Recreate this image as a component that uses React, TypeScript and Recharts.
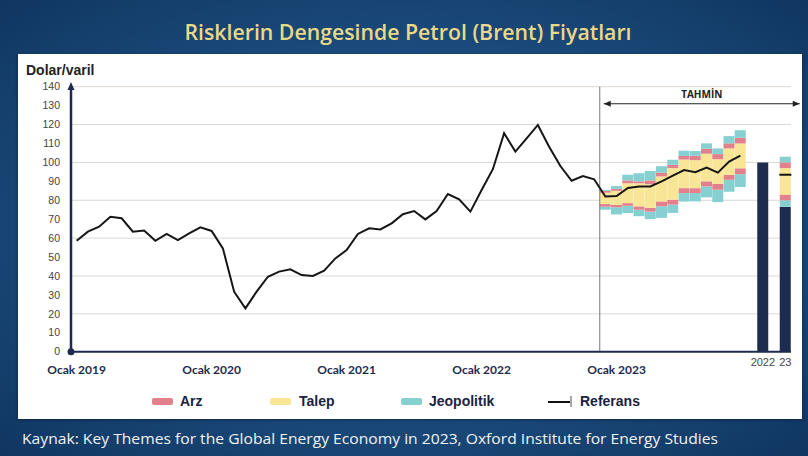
import React from 'react';
import { ComposedChart, Bar, Line, Scatter, XAxis, YAxis, CartesianGrid, ReferenceLine, Cell } from 'recharts';

const years = [2019, 2020, 2021, 2022, 2023];

// Brent, monthly, Jan 2019 - Dec 2022
const history = [
  58.6, 63.4, 66.0, 71.3, 70.5, 63.4, 64.0, 58.6, 62.2, 59.0, 62.5, 65.7,
  63.8, 54.6, 31.7, 22.9, 31.7, 39.6, 42.3, 43.5, 40.5, 40.0, 42.8, 49.3,
  53.7, 62.2, 65.2, 64.6, 67.8, 72.6, 74.3, 69.9, 74.3, 83.3, 80.5, 74.0,
  85.4, 96.4, 115.4, 105.7, 112.7, 119.8, 108.3, 98.1, 90.3, 92.8, 91.1, 82.0,
];
// reference path, Jan - Dec 2023
const forecast = [82.2, 86.5, 87.3, 87.3, 90.0, 93.0, 96.0, 94.8, 97.3, 94.6, 100.4, 103.6];

// risk bands, Dec 2022 - Dec 2023
const jeoLow = [75.0, 72.5, 73.2, 71.6, 70.0, 70.7, 73.3, 79.3, 79.4, 81.5, 79.0, 84.5, 87.0];
const arzLow = [76.6, 76.3, 77.1, 75.0, 74.0, 76.8, 77.7, 83.8, 83.8, 87.3, 85.6, 90.8, 93.8];
const talepLow = [78.0, 77.6, 78.5, 76.8, 76.0, 79.4, 80.3, 86.4, 86.4, 90.0, 88.7, 93.4, 96.9];
const talepHigh = [84.0, 85.0, 89.0, 89.0, 88.5, 92.6, 97.0, 101.5, 101.2, 104.6, 101.7, 107.4, 110.0];
const arzHigh = [85.0, 86.0, 90.5, 90.0, 90.5, 94.6, 98.7, 103.4, 103.5, 107.2, 104.4, 110.1, 113.0];
const jeoHigh = [85.5, 87.5, 93.5, 94.3, 95.5, 98.0, 101.4, 106.2, 106.0, 110.1, 107.4, 113.9, 117.0];

// annual averages on the right
const annual2022 = 100;
const bands2023 = [76.5, 80, 83, 97, 100, 103]; // jeoLow, arzLow, talepLow, talepHigh, arzHigh, jeoHigh
const ref2023 = 93.5;

const yTicks = [0, 10, 20, 30, 40, 50, 60, 70, 80, 90, 100, 110, 120, 130, 140];

const NAVY = '#1d2b4f';
const TEAL = '#86d0d2';
const RED = '#e2808c';
const YELLOW = '#f8e596';

const monthKeys = years.flatMap((y) =>
  Array.from({ length: 12 }, (_, m) => `${y}-${String(m + 1).padStart(2, '0')}`)
);
const keys = [...monthKeys, 'gap1', '2022', 'gap2', '23'];
const brentSeries = [...history, ...forecast];
const fanStart = history.length - 1;

const rows = keys.map((key, i) => {
  const row: any = { key, brent: i < brentSeries.length ? brentSeries[i] : null };
  const f = i - fanStart;
  let b: number[] | null = null;
  if (f >= 0 && f < jeoLow.length) {
    b = [jeoLow[f], arzLow[f], talepLow[f], talepHigh[f], arzHigh[f], jeoHigh[f]];
  }
  if (key === '23') {
    b = bands2023;
    row.mark = ref2023;
  }
  if (b) {
    row.base = b[0];
    row.tealLo = b[1] - b[0];
    row.redLo = b[2] - b[1];
    row.yellow = b[3] - b[2];
    row.redHi = b[4] - b[3];
    row.tealHi = b[5] - b[4];
  }
  if (key === '2022') row.base = annual2022;
  return row;
});

const renderXTick = (props: any) => {
  const { x, y, payload } = props;
  const k: string = payload.value;
  if (k.endsWith('-01')) {
    return (
      <text x={x} y={y + 22} textAnchor="middle" fontSize={12} fontWeight={700}
        fontFamily="Lato, sans-serif" fill={NAVY}>
        {`Ocak ${k.slice(0, 4)}`}
      </text>
    );
  }
  if (k === '2022' || k === '23') {
    return (
      <text x={x} y={y + 14} textAnchor="middle" fontSize={11}
        fontFamily="Liberation Sans, sans-serif" fill="#444">
        {k}
      </text>
    );
  }
  return <g />;
};

const renderMark = (p: any) => {
  if (p.cy == null || isNaN(p.cy)) return <g />;
  return <line x1={p.cx - 6} x2={p.cx + 6} y1={p.cy} y2={p.cy} stroke="#111" strokeWidth={2} />;
};

const renderArrow = (p: any) => {
  const x1 = p.x1 + 4;
  const x2 = p.x2 + 20;
  const y = p.y1;
  return (
    <g>
      <line x1={x1} x2={x2} y1={y} y2={y} stroke="#222" strokeWidth={1.2} />
      <polygon points={`${x1},${y} ${x1 + 7},${y - 3} ${x1 + 7},${y + 3}`} fill="#222" />
      <polygon points={`${x2},${y} ${x2 - 7},${y - 3} ${x2 - 7},${y + 3}`} fill="#222" />
      <text x={(x1 + x2) / 2} y={y - 6} textAnchor="middle" fontSize={10} fontWeight={700}
        fontFamily="Open Sans, sans-serif" fill="#222">TAHMİN</text>
    </g>
  );
};

const legendItems = [
  { name: 'Arz', color: RED, sx: 152, tx: 180 },
  { name: 'Talep', color: YELLOW, sx: 270, tx: 299 },
  { name: 'Jeopolitik', color: TEAL, sx: 401, tx: 429 },
];

export default function App() {
  return (
    <div style={{ position: 'absolute', left: 0, top: 0, width: 808, height: 456, overflow: 'hidden',
      background: 'radial-gradient(ellipse at 50% 50%, #2a5f92 0%, #1b4b7c 55%, #103661 100%)' }}>
      <div style={{ position: 'absolute', left: 18, top: 54, width: 784, height: 365, background: '#fff',
        boxShadow: '0 1px 3px rgba(0,0,0,0.4)' }} />
      <div style={{ position: 'absolute', left: 0, top: 0 }}>
        <ComposedChart width={808} height={456} data={rows}
          margin={{ top: 86.7, right: 17, bottom: 74.3, left: 31 }}
          barCategoryGap={0} barGap={0}>
          <CartesianGrid vertical={false} stroke="#ded7d3" />
          <XAxis dataKey="key" interval={0} tick={renderXTick} tickLine={false} tickSize={0}
            tickMargin={0} height={30} axisLine={{ stroke: NAVY, strokeWidth: 2 }} />
          <YAxis domain={[0, 140]} ticks={yTicks} width={40} tickLine={false} tickSize={0}
            tickMargin={11} axisLine={{ stroke: NAVY, strokeWidth: 2.5 }}
            tick={{ fontSize: 10.5, fill: '#444', fontFamily: 'Liberation Sans, sans-serif' }} />
          <ReferenceLine x={keys[fanStart]} position="start" stroke="#7a7a7a" strokeWidth={1} />
          <Bar dataKey="base" stackId="s" isAnimationActive={false}>
            {rows.map((r) => (
              <Cell key={r.key} fill={r.key === '2022' || r.key === '23' ? NAVY : 'transparent'} />
            ))}
          </Bar>
          <Bar dataKey="tealLo" stackId="s" fill={TEAL} isAnimationActive={false} />
          <Bar dataKey="redLo" stackId="s" fill={RED} isAnimationActive={false} />
          <Bar dataKey="yellow" stackId="s" fill={YELLOW} isAnimationActive={false} />
          <Bar dataKey="redHi" stackId="s" fill={RED} isAnimationActive={false} />
          <Bar dataKey="tealHi" stackId="s" fill={TEAL} isAnimationActive={false} />
          <Line dataKey="brent" type="linear" stroke="#161616" strokeWidth={2} dot={false}
            isAnimationActive={false} />
          <Scatter dataKey="mark" shape={renderMark} isAnimationActive={false} />
          <ReferenceLine segment={[{ x: keys[fanStart], y: 131 }, { x: '23', y: 131 }]}
            position="start" ifOverflow="visible" shape={renderArrow} />
        </ComposedChart>
      </div>
      <svg width={808} height={456} style={{ position: 'absolute', left: 0, top: 0, pointerEvents: 'none' }}>
        <text x={408} y={40} textAnchor="middle" fontSize={21} fontWeight={600}
          fontFamily="Open Sans, sans-serif" fill="#ead886" textLength={447} lengthAdjust="spacingAndGlyphs">
          Risklerin Dengesinde Petrol (Brent) Fiyatları
        </text>
        <text x={26} y={75} fontSize={14} fontWeight={700} fontFamily="Liberation Sans, sans-serif" fill="#222">
          Dolar/varil
        </text>
        <polygon points="71,82 67.5,90 74.5,90" fill={NAVY} />
        <circle cx={71} cy={351.7} r={3.5} fill={NAVY} />
        {legendItems.map((it) => (
          <g key={it.name}>
            <rect x={it.sx} y={398} width={21} height={7} rx={2} fill={it.color} />
            <text x={it.tx} y={406} fontSize={14} fontWeight={700}
              fontFamily="Liberation Sans, sans-serif" fill="#1a2340">{it.name}</text>
          </g>
        ))}
        <line x1={548} x2={570} y1={402} y2={402} stroke="#111" strokeWidth={2} />
        <line x1={571} x2={571} y1={396} y2={407} stroke="#555" strokeWidth={1} />
        <text x={580} y={406} fontSize={14} fontWeight={700} fontFamily="Liberation Sans, sans-serif"
          fill="#1a2340">Referans</text>
        <text x={22} y={444} fontSize={15} fontFamily="Open Sans, sans-serif" fill="#f2f2f2"
          textLength={696} lengthAdjust="spacingAndGlyphs">
          Kaynak: Key Themes for the Global Energy Economy in 2023,  Oxford Institute for Energy Studies
        </text>
      </svg>
    </div>
  );
}
